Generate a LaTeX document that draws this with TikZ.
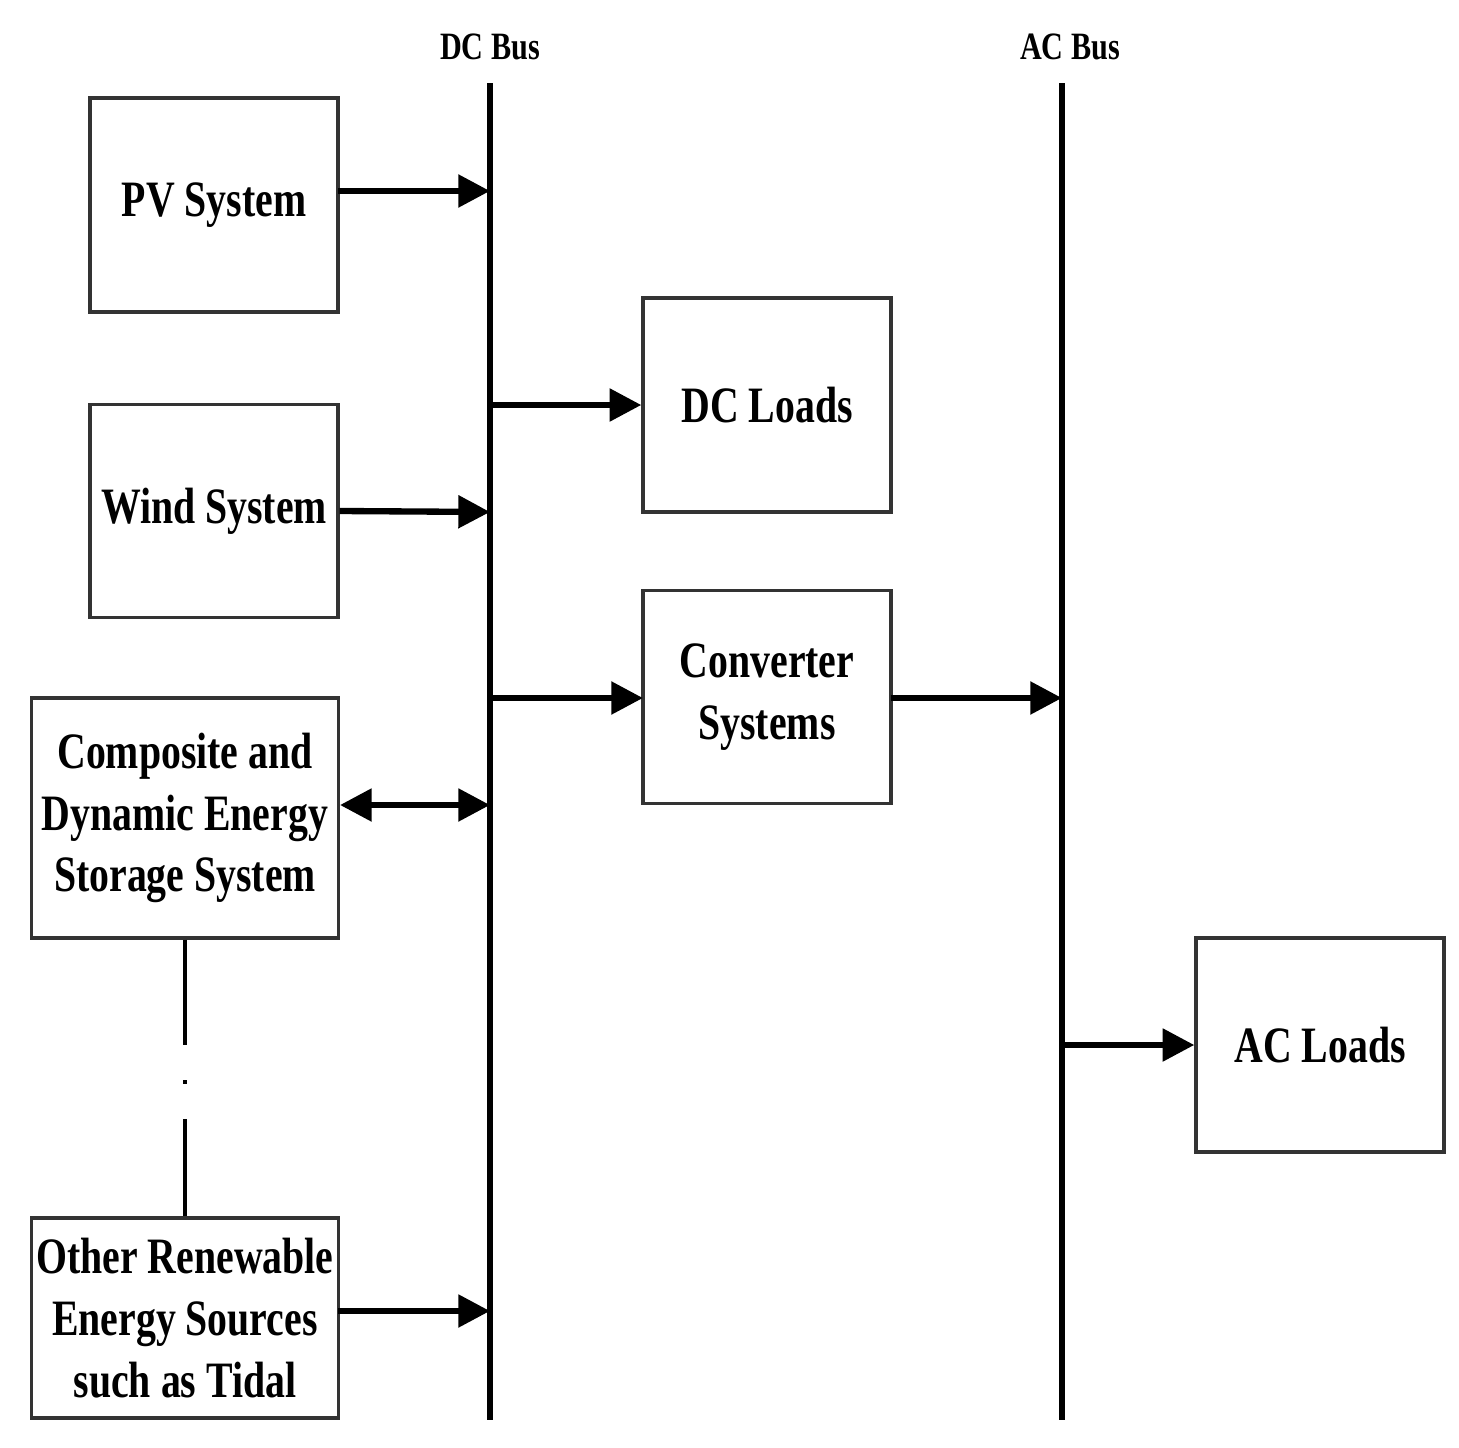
\documentclass[tikz,border=0pt]{standalone}
\usepackage{fontspec}
\setmainfont{Liberation Serif}[FakeStretch=0.78]
\usetikzlibrary{arrows.meta}
\begin{document}
\begin{tikzpicture}[x=0.01cm,y=-0.01cm,
  box/.style={draw=black!80,line width=0.9pt,inner sep=0pt,align=center,font=\bfseries\fontsize{14.5}{17.6}\selectfont},
  bus/.style={line width=1.6pt},
  arr/.style={line width=1.8pt,-{Triangle[length=9pt,width=9pt]}},
  lbl/.style={font=\bfseries\fontsize{11}{13}\selectfont}]
\useasboundingbox (0,0) rectangle (1459,1448);
\node[box,minimum width=2.48cm,minimum height=2.14cm] (pv) at (214,205) {PV System};
\node[box,minimum width=2.48cm,minimum height=2.13cm] (wind) at (214,511) {Wind System};
\node[box,minimum width=3.06cm,minimum height=2.40cm] (comp) at (185,818) {Composite and\\Dynamic Energy\\Storage System};
\node[box,minimum width=3.06cm,minimum height=2.00cm] (other) at (185,1318) {Other Renewable\\Energy Sources\\such as Tidal};
\node[box,minimum width=2.48cm,minimum height=2.14cm] (dcl) at (767,405) {DC Loads};
\node[box,minimum width=2.48cm,minimum height=2.13cm] (conv) at (767,697) {Converter\\Systems};
\node[box,minimum width=2.48cm,minimum height=2.14cm] (acl) at (1320,1045) {AC Loads};
\coordinate (dct) at (490,83); \coordinate (dcb) at (490,1420);
\coordinate (act) at (1062,83); \coordinate (acb) at (1062,1420);
\draw[bus] (dct) -- (dcb);
\draw[bus] (act) -- (acb);
\node[lbl] (dclab) at (490,47) {DC Bus};
\node[lbl] (aclab) at (1070,47) {AC Bus};
\coordinate (d1) at (490,191); \coordinate (d2) at (490,512);
\coordinate (d3) at (490,805); \coordinate (d4) at (490,1311);
\coordinate (d5) at (490,405); \coordinate (d6) at (490,698);
\coordinate (a1) at (1062,698); \coordinate (a2) at (1062,1045);
\draw[arr] (338,191) -- (d1);
\draw[arr] (wind.east) -- (d2);
\draw[arr,{Triangle[length=9pt,width=9pt]}-{Triangle[length=9pt,width=9pt]}] (340,805) -- (d3);
\draw[arr] (338,1311) -- (d4);
\draw[arr] (d5) -- (dcl.west);
\draw[arr] (d6) -- (643,698);
\draw[arr] (891,698) -- (a1);
\draw[arr] (a2) -- (acl.west);
\draw[line width=1pt,dash pattern=on 30pt off 10pt on 1pt off 10pt] (comp.south) -- (other.north);
\end{tikzpicture}
\end{document}
